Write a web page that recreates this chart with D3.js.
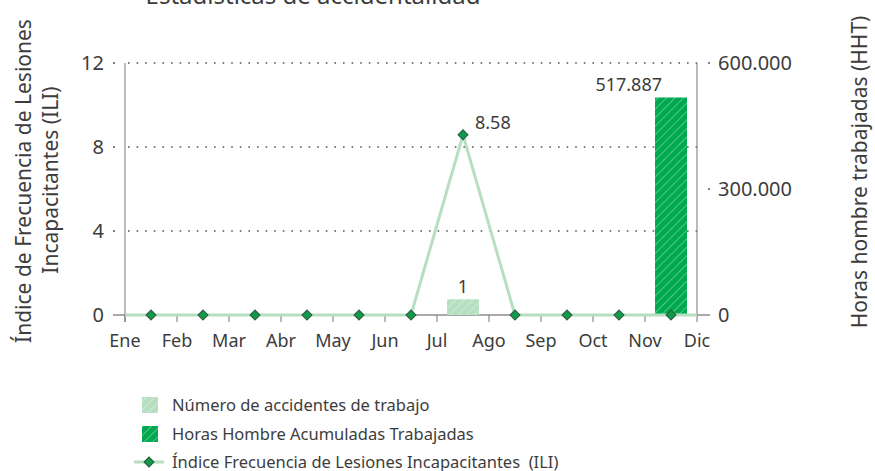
<!DOCTYPE html>
<html>
<head>
<meta charset="utf-8">
<script src="https://cdn.jsdelivr.net/npm/d3@7"></script>
<style>
  body { margin: 0; background: #fff; }
  text { font-family: "Noto Sans", sans-serif; fill: #3c3c3c; }
</style>
</head>
<body>
<svg id="root"></svg>
<script>
// data
const months = ["Ene", "Feb", "Mar", "Abr", "May", "Jun", "Jul", "Ago", "Sep", "Oct", "Nov", "Dic"];
const iliValues = [0, 0, 0, 0, 0, 0, 8.58, 0, 0, 0, 0];
const accidentValues = [0, 0, 0, 0, 0, 0, 1, 0, 0, 0, 0];
const hhtValues = [0, 0, 0, 0, 0, 0, 0, 0, 0, 0, 517887];
const leftTicks = [0, 4, 8, 12];
const rightTicks = [0, 300000, 600000];
const legendLabels = [
  "Número de accidentes de trabajo",
  "Horas Hombre Acumuladas Trabajadas",
  "Índice Frecuencia de Lesiones Incapacitantes  (ILI)"
];

const width = 875, height = 471;
const margin = { top: 63, left: 125, bottom: 156, right: 178 };
const lightGreen = "#b6dfc2", darkGreen = "#00a94f", diamondFill = "#0e9a4a";

const svg = d3.select("#root").attr("width", width).attr("height", height);

const x = d3.scaleLinear().domain([0, months.length - 1]).range([margin.left, width - margin.right]);
const yL = d3.scaleLinear().domain([0, 12]).range([height - margin.bottom, margin.top]);
const yR = d3.scaleLinear().domain([0, 600000]).range([height - margin.bottom, margin.top]);
// accidents sit on their own hidden scale
const yA = d3.scaleLinear().domain([0, 16]).range([height - margin.bottom, margin.top]);

const fmt = d3.formatLocale({ decimal: ",", thousands: ".", grouping: [3], currency: ["", ""] }).format(",");
const barW = 32;
const y0 = yL(0);

// hatch patterns
const defs = svg.append("defs");
[["hatchLight", lightGreen, 0.5], ["hatchDark", darkGreen, 0.5]].forEach(([id, color, op]) => {
  const p = defs.append("pattern")
    .attr("id", id)
    .attr("patternUnits", "userSpaceOnUse")
    .attr("width", 6).attr("height", 6)
    .attr("patternTransform", "rotate(45)");
  p.append("rect").attr("width", 6).attr("height", 6).attr("fill", color);
  p.append("line").attr("x1", 0).attr("y1", 0).attr("x2", 0).attr("y2", 6)
    .attr("stroke", "#fff").attr("stroke-width", 1.3).attr("stroke-opacity", op);
});

// title (mostly cut off at top)
svg.append("text")
  .attr("x", 313).attr("y", 4)
  .attr("text-anchor", "middle")
  .style("font-size", "24px")
  .text("Estadísticas de accidentalidad");

// dotted gridlines
svg.append("g")
  .selectAll("line")
  .data(leftTicks.filter(d => d > 0))
  .join("line")
  .attr("x1", x(0) + 3).attr("x2", x(11))
  .attr("y1", d => yL(d)).attr("y2", d => yL(d))
  .attr("stroke", "#555").attr("stroke-width", 1.6)
  .attr("stroke-dasharray", "1.6 7");

// left axis
const leftAxis = svg.append("g");
leftAxis.append("line")
  .attr("x1", x(0)).attr("x2", x(0)).attr("y1", yL(12)).attr("y2", y0 + 7)
  .attr("stroke", "#777");
leftAxis.selectAll("line.tk")
  .data(leftTicks)
  .join("line")
  .attr("class", "tk")
  .attr("x1", x(0) - 12)
  .attr("x2", d => d === 0 ? x(0) : x(0) - 10)
  .attr("y1", d => yL(d)).attr("y2", d => yL(d))
  .attr("stroke", "#555").attr("stroke-width", d => d === 0 ? 1 : 1.6);
leftAxis.selectAll("text")
  .data(leftTicks)
  .join("text")
  .attr("x", x(0) - 21).attr("y", d => yL(d))
  .attr("dy", "0.35em")
  .attr("text-anchor", "end")
  .style("font-size", "20px")
  .text(d => d);

// right axis
const rightAxis = svg.append("g");
rightAxis.append("line")
  .attr("x1", x(11)).attr("x2", x(11)).attr("y1", yR(600000)).attr("y2", y0)
  .attr("stroke", "#777");
rightAxis.selectAll("line.tk")
  .data(rightTicks)
  .join("line")
  .attr("class", "tk")
  .attr("x1", d => d === 0 ? x(11) : x(11) + 11)
  .attr("x2", x(11) + 13)
  .attr("y1", d => yR(d)).attr("y2", d => yR(d))
  .attr("stroke", "#555").attr("stroke-width", d => d === 0 ? 1 : 1.6);
rightAxis.selectAll("text")
  .data(rightTicks)
  .join("text")
  .attr("x", x(11) + 21).attr("y", d => yR(d))
  .attr("dy", "0.35em")
  .style("font-size", "20px")
  .text(d => fmt(d));

// bottom axis
const bottomAxis = svg.append("g");
bottomAxis.append("line")
  .attr("x1", x(0)).attr("x2", x(11)).attr("y1", y0).attr("y2", y0)
  .attr("stroke", "#555");
bottomAxis.selectAll("line.tk")
  .data(months)
  .join("line")
  .attr("class", "tk")
  .attr("x1", (d, i) => x(i)).attr("x2", (d, i) => x(i))
  .attr("y1", y0).attr("y2", y0 + 7)
  .attr("stroke", "#777");
bottomAxis.selectAll("text")
  .data(months)
  .join("text")
  .attr("x", (d, i) => x(i)).attr("y", y0 + 32)
  .attr("text-anchor", "middle")
  .style("font-size", "18px")
  .text(d => d);

// bars
const mid = i => x(i + 0.5);
const accBars = accidentValues.map((v, i) => ({ v, i })).filter(d => d.v > 0);
const hhtBars = hhtValues.map((v, i) => ({ v, i })).filter(d => d.v > 0);

svg.append("g")
  .selectAll("rect")
  .data(accBars)
  .join("rect")
  .attr("x", d => mid(d.i) - barW / 2).attr("width", barW)
  .attr("y", d => yA(d.v)).attr("height", d => y0 - yA(d.v))
  .attr("fill", "url(#hatchLight)");
svg.append("g")
  .selectAll("text")
  .data(accBars)
  .join("text")
  .attr("x", d => mid(d.i)).attr("y", d => yA(d.v) - 6)
  .attr("text-anchor", "middle")
  .style("font-size", "18px")
  .text(d => d.v);

svg.append("g")
  .selectAll("rect")
  .data(hhtBars)
  .join("rect")
  .attr("x", d => mid(d.i) - barW / 2).attr("width", barW)
  .attr("y", d => yR(d.v)).attr("height", d => y0 - yR(d.v))
  .attr("fill", "url(#hatchDark)");
svg.append("g")
  .selectAll("text")
  .data(hhtBars)
  .join("text")
  .attr("x", d => mid(d.i) - 9).attr("y", d => yR(d.v) - 6)
  .attr("text-anchor", "end")
  .style("font-size", "18px")
  .text(d => fmt(d.v));

// ILI line, flat out to both axes
const linePts = [[x(0), iliValues[0]]]
  .concat(iliValues.map((v, i) => [mid(i), v]))
  .concat([[x(11), iliValues[iliValues.length - 1]]]);
svg.append("path")
  .datum(linePts)
  .attr("fill", "none")
  .attr("stroke", lightGreen)
  .attr("stroke-width", 3)
  .attr("d", d3.line().x(d => d[0]).y(d => yL(d[1])));

const diamond = d3.symbol(d3.symbolSquare, 50);
svg.append("g")
  .selectAll("path")
  .data(iliValues)
  .join("path")
  .attr("d", diamond)
  .attr("transform", (d, i) => `translate(${mid(i)},${yL(d)}) rotate(45)`)
  .attr("fill", diamondFill)
  .attr("stroke", "#2e5b3e")
  .attr("stroke-width", 1);
svg.append("g")
  .selectAll("text")
  .data(iliValues.map((v, i) => ({ v, i })).filter(d => d.v > 0))
  .join("text")
  .attr("x", d => mid(d.i) + 12).attr("y", d => yL(d.v) - 6)
  .style("font-size", "18px")
  .text(d => d.v);

// axis titles
svg.append("text")
  .attr("transform", "translate(31,181) rotate(-90)")
  .attr("text-anchor", "middle")
  .style("font-size", "21px")
  .text("Índice de Frecuencia de Lesiones");
svg.append("text")
  .attr("transform", "translate(58,180) rotate(-90)")
  .attr("text-anchor", "middle")
  .style("font-size", "21px")
  .text("Incapacitantes (ILI)");
svg.append("text")
  .attr("transform", "translate(867,172) rotate(-90)")
  .attr("text-anchor", "middle")
  .style("font-size", "21px")
  .text("Horas hombre trabajadas (HHT)");

// legend
const legend = svg.append("g");
const rowY = [405, 434, 462];
legend.append("rect").attr("x", 142).attr("y", rowY[0] - 8).attr("width", 16).attr("height", 16)
  .attr("fill", "url(#hatchLight)");
legend.append("rect").attr("x", 142).attr("y", rowY[1] - 8).attr("width", 16).attr("height", 16)
  .attr("fill", "url(#hatchDark)");
legend.append("line").attr("x1", 134).attr("x2", 164).attr("y1", rowY[2]).attr("y2", rowY[2])
  .attr("stroke", lightGreen).attr("stroke-width", 3);
legend.append("path").attr("d", diamond)
  .attr("transform", `translate(149,${rowY[2]}) rotate(45)`)
  .attr("fill", diamondFill).attr("stroke", "#2e5b3e");
legend.selectAll("text")
  .data(legendLabels)
  .join("text")
  .attr("x", 172).attr("y", (d, i) => rowY[i])
  .attr("dy", "0.35em")
  .style("font-size", "16.5px")
  .style("white-space", "pre")
  .text(d => d);
</script>
</body>
</html>
